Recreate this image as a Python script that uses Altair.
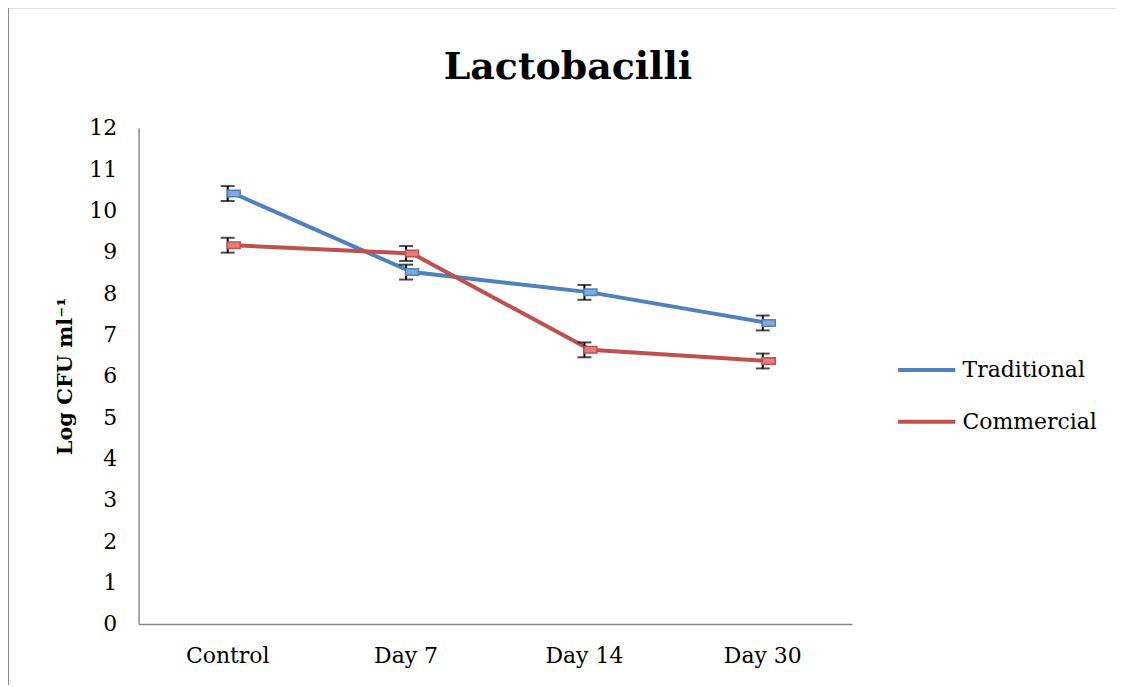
import altair as alt
import pandas as pd

title_text = ["Lactobacilli"]
categories = ["Control", "Day 7", "Day 14", "Day 30"]
series_names = ["Traditional", "Commercial"]
traditional = [10.41, 8.51, 8.02, 7.28]
commercial = [9.16, 8.96, 6.63, 6.36]
traditional_err = [0.18, 0.18, 0.18, 0.18]
commercial_err = [0.18, 0.18, 0.18, 0.18]
y_ticks = list(range(0, 13))

line_colors = ["#4F81BD", "#C0504D"]
marker_fill = ["#7EA9DD", "#E07F7B"]

rows = []
for name, vals, errs in [("Traditional", traditional, traditional_err),
                         ("Commercial", commercial, commercial_err)]:
    for c, v, e in zip(categories, vals, errs):
        rows.append({"Day": c, "Series": name, "Value": v, "Err": e})
df = pd.DataFrame(rows)

FONT = "DejaVu Serif"

x_enc = alt.X("Day:N", sort=categories, title=None,
              scale=alt.Scale(paddingInner=0, paddingOuter=0),
              axis=alt.Axis(labelAngle=0, ticks=False, domainColor="#888888",
                            domainWidth=1.5, labelFont=FONT, labelFontSize=22,
                            labelColor="#000000", labelPadding=22, grid=False))
y_enc = alt.Y("Value:Q", title="Log CFU ml⁻¹",
              scale=alt.Scale(domain=[0, 12], nice=False),
              axis=alt.Axis(values=y_ticks, ticks=False, domainColor="#888888",
                            domainWidth=1.5, labelFont=FONT, labelFontSize=22,
                            labelColor="#000000", labelPadding=22, grid=False,
                            titleFont=FONT, titleFontSize=21, titleFontWeight="bold",
                            titleColor="#000000", titlePadding=13))

base = alt.Chart(df)
one = pd.DataFrame({"k": [0]})

border_top = alt.Chart(one).mark_rule(color="#8A8A8A", strokeWidth=2).encode(
    x=alt.value(-131), x2=alt.value(990), y=alt.value(-121))
border_left = alt.Chart(one).mark_rule(color="#8A8A8A", strokeWidth=2).encode(
    x=alt.value(-131), y=alt.value(-122), y2=alt.value(600))

title = alt.Chart(pd.DataFrame({"t": title_text})).mark_text(
    font=FONT, fontSize=38, fontWeight="bold", color="#000000",
    align="center", baseline="alphabetic"
).encode(text="t:N", x=alt.value(431), y=alt.value(-49))

lines = base.mark_line(strokeWidth=4, xOffset=6).encode(
    x=x_enc, y=y_enc,
    color=alt.Color("Series:N", sort=series_names,
                    scale=alt.Scale(domain=series_names, range=line_colors),
                    legend=alt.Legend(title=None, orient="none", legendX=760,
                                      legendY=212, labelFont=FONT, labelFontSize=22,
                                      labelColor="#000000", symbolType="stroke",
                                      symbolSize=3300, symbolStrokeWidth=4,
                                      rowPadding=10, labelOffset=5)),
    detail="Series:N",
)

points = base.mark_point(
    shape="M-1,-0.5L1,-0.5L1,0.5L-1,0.5Z", size=170, filled=True,
    strokeWidth=1.5, opacity=1, xOffset=6
).encode(
    x=alt.X("Day:N", sort=categories),
    y="Value:Q",
    fill=alt.Fill("Series:N", scale=alt.Scale(domain=series_names, range=marker_fill), legend=None),
    stroke=alt.Stroke("Series:N", scale=alt.Scale(domain=series_names, range=line_colors), legend=None),
)

eb = base.transform_calculate(lo="datum.Value - datum.Err", hi="datum.Value + datum.Err")
rules = eb.mark_rule(color="#000000", strokeWidth=2).encode(
    x=alt.X("Day:N", sort=categories), y="lo:Q", y2="hi:Q")
caps_lo = eb.mark_tick(color="#000000", thickness=2, size=14).encode(
    x=alt.X("Day:N", sort=categories), y="lo:Q")
caps_hi = eb.mark_tick(color="#000000", thickness=2, size=14).encode(
    x=alt.X("Day:N", sort=categories), y="hi:Q")

chart = alt.layer(border_top, border_left, title, lines, rules, caps_lo, caps_hi, points).properties(
    width=716, height=498,
    autosize=alt.AutoSizeParams(type="none"),
    padding={"left": 131, "top": 119, "right": 265, "bottom": 60},
    view=alt.ViewBackground(stroke="#ffffff", strokeWidth=0, strokeOpacity=0),
).configure_view(strokeWidth=0, strokeOpacity=0, stroke="#ffffff").configure(background="#ffffff")

chart.save("out.html", embed_options={"renderer": "svg", "actions": False})
